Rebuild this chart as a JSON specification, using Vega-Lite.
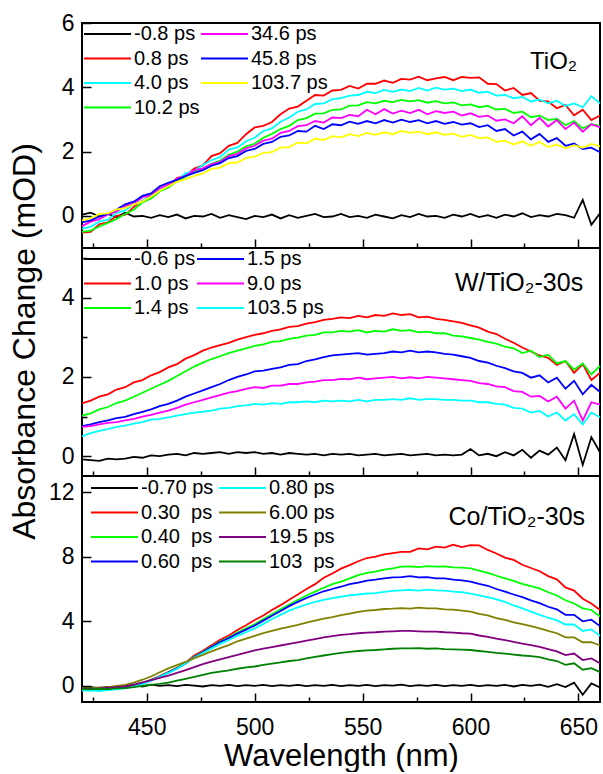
{
"$schema": "https://vega.github.io/schema/vega-lite/v6.json",
"padding": {"left": 6, "top": 11, "right": 3, "bottom": 0},
"spacing": 0,
"bounds": "flush",
"config": {
  "font": "Liberation Sans",
  "view": {"stroke": "black", "strokeWidth": 2},
  "axis": {"domain": false, "grid": false, "tickColor": "black", "tickWidth": 1.5, "labelFont": "Liberation Sans", "labelFontSize": 23, "labelColor": "black", "labelFlush": false, "labelOverlap": false, "titleFont": "Liberation Sans", "titleFontSize": 32, "titleFontWeight": "normal", "titleColor": "black"},
  "legend": {"orient": "none", "padding": 0, "columns": 2, "clipHeight": 20, "rowPadding": 4.5, "symbolType": "stroke", "symbolSize": 2209, "symbolStrokeWidth": 2, "labelFont": "Liberation Sans", "labelFontSize": 20, "labelColor": "black", "labelOffset": 2}
},
"resolve": {"scale": {"color": "independent", "x": "independent", "y": "independent"}, "legend": {"color": "independent"}},
"datasets": {
"p1": [
{"w":420,"a":0.04,"b":-0.52,"c":-0.40,"d":-0.50,"e":-0.32,"f":-0.20,"g":-0.14},
{"w":424,"a":0.10,"b":-0.50,"c":-0.34,"d":-0.46,"e":-0.18,"f":-0.14,"g":-0.08},
{"w":428,"a":-0.02,"b":-0.26,"c":-0.18,"d":-0.33,"e":-0.10,"f":-0.02,"g":0.06},
{"w":432,"a":0.06,"b":-0.20,"c":-0.12,"d":-0.22,"e":0.04,"f":0.06,"g":0.08},
{"w":436,"a":-0.04,"b":0.00,"c":0.09,"d":-0.10,"e":0.14,"f":0.20,"g":0.20},
{"w":440,"a":0.10,"b":0.03,"c":0.17,"d":0.06,"e":0.31,"f":0.36,"g":0.24},
{"w":444,"a":-0.02,"b":0.28,"c":0.36,"d":0.19,"e":0.38,"f":0.44,"g":0.36},
{"w":448,"a":0.00,"b":0.47,"c":0.45,"d":0.42,"e":0.58,"f":0.62,"g":0.44},
{"w":452,"a":-0.06,"b":0.55,"c":0.66,"d":0.54,"e":0.63,"f":0.70,"g":0.60},
{"w":456,"a":0.02,"b":0.78,"c":0.79,"d":0.76,"e":0.86,"f":0.92,"g":0.78},
{"w":460,"a":-0.04,"b":0.89,"c":1.03,"d":0.88,"e":0.97,"f":1.03,"g":0.92},
{"w":464,"a":0.04,"b":1.18,"c":1.11,"d":1.08,"e":1.16,"f":1.12,"g":1.06},
{"w":468,"a":-0.08,"b":1.26,"c":1.32,"d":1.22,"e":1.24,"f":1.24,"g":1.14},
{"w":472,"a":0.00,"b":1.47,"c":1.40,"d":1.36,"e":1.42,"f":1.34,"g":1.24},
{"w":476,"a":-0.02,"b":1.57,"c":1.58,"d":1.47,"e":1.48,"f":1.42,"g":1.32},
{"w":480,"a":0.06,"b":1.86,"c":1.73,"d":1.62,"e":1.61,"f":1.56,"g":1.46},
{"w":484,"a":-0.06,"b":1.95,"c":1.83,"d":1.72,"e":1.68,"f":1.64,"g":1.50},
{"w":488,"a":0.02,"b":2.18,"c":2.06,"d":1.90,"e":1.86,"f":1.80,"g":1.64},
{"w":492,"a":-0.04,"b":2.27,"c":2.13,"d":2.00,"e":1.93,"f":1.86,"g":1.66},
{"w":496,"a":-0.10,"b":2.54,"c":2.32,"d":2.16,"e":2.10,"f":2.02,"g":1.80},
{"w":500,"a":0.00,"b":2.75,"c":2.43,"d":2.24,"e":2.18,"f":2.08,"g":1.84},
{"w":504,"a":-0.04,"b":2.80,"c":2.64,"d":2.43,"e":2.34,"f":2.24,"g":1.96},
{"w":508,"a":0.04,"b":2.92,"c":2.72,"d":2.55,"e":2.40,"f":2.30,"g":1.98},
{"w":512,"a":-0.08,"b":3.16,"c":2.93,"d":2.70,"e":2.58,"f":2.46,"g":2.12},
{"w":516,"a":0.02,"b":3.34,"c":3.06,"d":2.80,"e":2.64,"f":2.50,"g":2.14},
{"w":520,"a":-0.06,"b":3.40,"c":3.24,"d":2.98,"e":2.79,"f":2.64,"g":2.28},
{"w":524,"a":0.00,"b":3.58,"c":3.31,"d":3.04,"e":2.82,"f":2.62,"g":2.26},
{"w":528,"a":0.06,"b":3.76,"c":3.48,"d":3.18,"e":2.95,"f":2.80,"g":2.40},
{"w":532,"a":-0.04,"b":3.74,"c":3.50,"d":3.19,"e":2.90,"f":2.70,"g":2.36},
{"w":536,"a":-0.02,"b":3.90,"c":3.63,"d":3.30,"e":3.06,"f":2.85,"g":2.48},
{"w":540,"a":0.06,"b":3.92,"c":3.66,"d":3.31,"e":3.04,"f":2.82,"g":2.44},
{"w":544,"a":-0.04,"b":4.04,"c":3.74,"d":3.43,"e":3.14,"f":2.93,"g":2.54},
{"w":548,"a":0.00,"b":3.96,"c":3.76,"d":3.44,"e":3.10,"f":2.86,"g":2.48},
{"w":552,"a":-0.06,"b":4.11,"c":3.86,"d":3.54,"e":3.30,"f":2.95,"g":2.58},
{"w":556,"a":0.04,"b":4.11,"c":3.82,"d":3.50,"e":3.16,"f":2.88,"g":2.52},
{"w":560,"a":-0.02,"b":4.21,"c":3.92,"d":3.58,"e":3.32,"f":2.98,"g":2.60},
{"w":564,"a":-0.08,"b":4.14,"c":3.86,"d":3.54,"e":3.18,"f":2.90,"g":2.54},
{"w":568,"a":0.02,"b":4.26,"c":3.93,"d":3.61,"e":3.27,"f":2.99,"g":2.64},
{"w":572,"a":-0.04,"b":4.24,"c":3.88,"d":3.56,"e":3.20,"f":2.92,"g":2.58},
{"w":576,"a":0.06,"b":4.33,"c":3.98,"d":3.60,"e":3.30,"f":2.98,"g":2.62},
{"w":580,"a":-0.02,"b":4.22,"c":3.90,"d":3.52,"e":3.16,"f":2.88,"g":2.54},
{"w":584,"a":0.00,"b":4.28,"c":3.99,"d":3.57,"e":3.26,"f":2.95,"g":2.60},
{"w":588,"a":-0.06,"b":4.32,"c":3.93,"d":3.50,"e":3.20,"f":2.86,"g":2.52},
{"w":592,"a":0.04,"b":4.22,"c":3.96,"d":3.53,"e":3.24,"f":2.92,"g":2.56},
{"w":596,"a":-0.02,"b":4.32,"c":3.88,"d":3.44,"e":3.12,"f":2.84,"g":2.46},
{"w":600,"a":0.06,"b":4.29,"c":3.93,"d":3.47,"e":3.19,"f":2.88,"g":2.52},
{"w":604,"a":-0.04,"b":4.31,"c":3.83,"d":3.38,"e":3.08,"f":2.76,"g":2.42},
{"w":608,"a":0.02,"b":4.11,"c":3.86,"d":3.42,"e":3.12,"f":2.82,"g":2.44},
{"w":612,"a":-0.06,"b":4.10,"c":3.74,"d":3.31,"e":2.96,"f":2.64,"g":2.30},
{"w":616,"a":0.04,"b":3.90,"c":3.76,"d":3.33,"e":3.00,"f":2.70,"g":2.34},
{"w":620,"a":-0.02,"b":3.98,"c":3.66,"d":3.20,"e":2.88,"f":2.50,"g":2.22},
{"w":624,"a":0.08,"b":3.76,"c":3.70,"d":3.24,"e":3.10,"f":2.62,"g":2.32},
{"w":628,"a":-0.04,"b":3.82,"c":3.56,"d":3.07,"e":2.82,"f":2.38,"g":2.18},
{"w":632,"a":0.02,"b":3.58,"c":3.62,"d":3.12,"e":3.05,"f":2.55,"g":2.30},
{"w":636,"a":-0.02,"b":3.56,"c":3.50,"d":2.98,"e":2.78,"f":2.30,"g":2.14},
{"w":640,"a":0.06,"b":3.35,"c":3.58,"d":3.02,"e":2.98,"f":2.42,"g":2.22},
{"w":644,"a":0.02,"b":3.45,"c":3.42,"d":2.82,"e":2.70,"f":2.18,"g":2.10},
{"w":648,"a":-0.06,"b":3.13,"c":3.50,"d":2.95,"e":2.90,"f":2.25,"g":2.20},
{"w":652,"a":0.50,"b":3.30,"c":3.38,"d":2.72,"e":2.62,"f":2.08,"g":2.12},
{"w":656,"a":-0.28,"b":2.98,"c":3.72,"d":2.85,"e":2.85,"f":2.12,"g":2.24},
{"w":660,"a":0.08,"b":3.12,"c":3.50,"d":2.80,"e":2.75,"f":1.98,"g":2.16}
],
"p2": [
{"w":420,"a":-0.08,"b":1.33,"c":1.02,"d":0.76,"e":0.74,"f":0.50},
{"w":424,"a":-0.10,"b":1.40,"c":1.08,"d":0.80,"e":0.76,"f":0.58},
{"w":428,"a":-0.12,"b":1.50,"c":1.18,"d":0.86,"e":0.80,"f":0.64},
{"w":432,"a":-0.06,"b":1.56,"c":1.24,"d":0.90,"e":0.84,"f":0.68},
{"w":436,"a":-0.08,"b":1.68,"c":1.34,"d":0.96,"e":0.86,"f":0.74},
{"w":440,"a":-0.06,"b":1.74,"c":1.40,"d":0.99,"e":0.90,"f":0.77},
{"w":444,"a":-0.02,"b":1.86,"c":1.50,"d":1.06,"e":0.94,"f":0.82},
{"w":448,"a":-0.04,"b":1.92,"c":1.60,"d":1.12,"e":1.00,"f":0.86},
{"w":452,"a":0.02,"b":2.04,"c":1.70,"d":1.18,"e":1.04,"f":0.92},
{"w":456,"a":0.00,"b":2.12,"c":1.80,"d":1.26,"e":1.10,"f":0.94},
{"w":460,"a":0.04,"b":2.24,"c":1.90,"d":1.32,"e":1.15,"f":0.98},
{"w":464,"a":0.06,"b":2.32,"c":2.02,"d":1.40,"e":1.22,"f":1.02},
{"w":468,"a":0.02,"b":2.46,"c":2.14,"d":1.50,"e":1.30,"f":1.06},
{"w":472,"a":0.08,"b":2.55,"c":2.26,"d":1.58,"e":1.36,"f":1.10},
{"w":476,"a":0.06,"b":2.66,"c":2.36,"d":1.66,"e":1.42,"f":1.12},
{"w":480,"a":0.08,"b":2.74,"c":2.45,"d":1.74,"e":1.48,"f":1.15},
{"w":484,"a":0.10,"b":2.80,"c":2.52,"d":1.82,"e":1.54,"f":1.20},
{"w":488,"a":0.06,"b":2.86,"c":2.60,"d":1.92,"e":1.60,"f":1.22},
{"w":492,"a":0.10,"b":2.94,"c":2.66,"d":2.00,"e":1.64,"f":1.26},
{"w":496,"a":0.08,"b":3.00,"c":2.72,"d":2.06,"e":1.70,"f":1.28},
{"w":500,"a":0.10,"b":3.06,"c":2.78,"d":2.14,"e":1.74,"f":1.32},
{"w":504,"a":0.06,"b":3.10,"c":2.82,"d":2.16,"e":1.72,"f":1.30},
{"w":508,"a":0.08,"b":3.16,"c":2.88,"d":2.20,"e":1.78,"f":1.34},
{"w":512,"a":0.04,"b":3.20,"c":2.90,"d":2.24,"e":1.78,"f":1.32},
{"w":516,"a":0.08,"b":3.26,"c":2.96,"d":2.30,"e":1.82,"f":1.36},
{"w":520,"a":0.06,"b":3.28,"c":2.99,"d":2.32,"e":1.82,"f":1.36},
{"w":524,"a":0.04,"b":3.34,"c":3.04,"d":2.40,"e":1.86,"f":1.38},
{"w":528,"a":0.06,"b":3.38,"c":3.06,"d":2.44,"e":1.88,"f":1.36},
{"w":532,"a":0.02,"b":3.44,"c":3.12,"d":2.50,"e":1.92,"f":1.40},
{"w":536,"a":0.06,"b":3.46,"c":3.12,"d":2.54,"e":1.92,"f":1.38},
{"w":540,"a":0.04,"b":3.50,"c":3.16,"d":2.56,"e":1.95,"f":1.40},
{"w":544,"a":0.06,"b":3.48,"c":3.14,"d":2.58,"e":1.94,"f":1.38},
{"w":548,"a":0.02,"b":3.54,"c":3.18,"d":2.60,"e":1.98,"f":1.42},
{"w":552,"a":0.04,"b":3.50,"c":3.12,"d":2.56,"e":1.94,"f":1.38},
{"w":556,"a":0.06,"b":3.56,"c":3.16,"d":2.58,"e":1.96,"f":1.42},
{"w":560,"a":0.02,"b":3.54,"c":3.14,"d":2.60,"e":1.98,"f":1.42},
{"w":564,"a":0.04,"b":3.60,"c":3.20,"d":2.64,"e":2.00,"f":1.44},
{"w":568,"a":0.06,"b":3.56,"c":3.16,"d":2.62,"e":1.96,"f":1.42},
{"w":572,"a":0.02,"b":3.58,"c":3.18,"d":2.66,"e":1.99,"f":1.46},
{"w":576,"a":0.04,"b":3.50,"c":3.12,"d":2.62,"e":1.96,"f":1.42},
{"w":580,"a":0.06,"b":3.52,"c":3.14,"d":2.64,"e":2.00,"f":1.44},
{"w":584,"a":0.02,"b":3.46,"c":3.10,"d":2.62,"e":1.98,"f":1.44},
{"w":588,"a":0.04,"b":3.44,"c":3.10,"d":2.58,"e":1.96,"f":1.42},
{"w":592,"a":0.02,"b":3.40,"c":3.04,"d":2.56,"e":1.94,"f":1.42},
{"w":596,"a":0.04,"b":3.36,"c":3.02,"d":2.52,"e":1.92,"f":1.40},
{"w":600,"a":0.18,"b":3.30,"c":2.98,"d":2.48,"e":1.90,"f":1.40},
{"w":604,"a":0.02,"b":3.24,"c":2.94,"d":2.40,"e":1.84,"f":1.36},
{"w":608,"a":0.06,"b":3.14,"c":2.88,"d":2.36,"e":1.82,"f":1.36},
{"w":612,"a":0.00,"b":3.08,"c":2.84,"d":2.28,"e":1.76,"f":1.32},
{"w":616,"a":0.10,"b":2.96,"c":2.76,"d":2.22,"e":1.74,"f":1.30},
{"w":620,"a":0.02,"b":2.86,"c":2.72,"d":2.14,"e":1.64,"f":1.22},
{"w":624,"a":0.16,"b":2.74,"c":2.60,"d":2.10,"e":1.62,"f":1.20},
{"w":628,"a":-0.04,"b":2.64,"c":2.66,"d":1.98,"e":1.50,"f":1.10},
{"w":632,"a":0.14,"b":2.54,"c":2.50,"d":2.04,"e":1.52,"f":1.14},
{"w":636,"a":0.04,"b":2.48,"c":2.56,"d":1.86,"e":1.38,"f":1.00},
{"w":640,"a":0.22,"b":2.30,"c":2.34,"d":1.98,"e":1.50,"f":1.10},
{"w":644,"a":-0.10,"b":2.40,"c":2.40,"d":1.70,"e":1.20,"f":0.90},
{"w":648,"a":0.56,"b":2.10,"c":2.18,"d":1.90,"e":1.40,"f":1.06},
{"w":652,"a":-0.22,"b":2.32,"c":2.34,"d":1.56,"e":0.90,"f":0.80},
{"w":656,"a":0.48,"b":1.92,"c":2.06,"d":1.80,"e":1.36,"f":1.10},
{"w":660,"a":0.10,"b":2.10,"c":2.28,"d":1.62,"e":1.30,"f":0.98}
],
"p3": [
{"w":420,"a":-0.12,"b":-0.18,"c":-0.20,"d":-0.22,"e":-0.30,"f":-0.14,"g":-0.18,"h":-0.20},
{"w":424,"a":-0.08,"b":-0.22,"c":-0.18,"d":-0.20,"e":-0.28,"f":-0.16,"g":-0.20,"h":-0.22},
{"w":428,"a":-0.14,"b":-0.16,"c":-0.22,"d":-0.24,"e":-0.32,"f":-0.10,"g":-0.16,"h":-0.18},
{"w":432,"a":-0.06,"b":-0.20,"c":-0.16,"d":-0.18,"e":-0.26,"f":-0.08,"g":-0.12,"h":-0.20},
{"w":436,"a":-0.10,"b":-0.12,"c":-0.14,"d":-0.16,"e":-0.22,"f":0.00,"g":-0.08,"h":-0.16},
{"w":440,"a":-0.02,"b":-0.10,"c":-0.10,"d":-0.12,"e":-0.16,"f":0.06,"g":-0.04,"h":-0.14},
{"w":444,"a":0.06,"b":0.02,"c":0.00,"d":-0.02,"e":-0.04,"f":0.20,"g":0.08,"h":-0.08},
{"w":448,"a":-0.04,"b":0.16,"c":0.14,"d":0.12,"e":0.10,"f":0.38,"g":0.22,"h":0.00},
{"w":452,"a":0.08,"b":0.38,"c":0.36,"d":0.34,"e":0.32,"f":0.58,"g":0.36,"h":0.06},
{"w":456,"a":0.00,"b":0.60,"c":0.58,"d":0.56,"e":0.56,"f":0.84,"g":0.50,"h":0.12},
{"w":460,"a":0.04,"b":0.86,"c":0.84,"d":0.82,"e":0.80,"f":1.08,"g":0.64,"h":0.20},
{"w":464,"a":-0.02,"b":1.12,"c":1.10,"d":1.08,"e":1.06,"f":1.28,"g":0.80,"h":0.32},
{"w":468,"a":0.06,"b":1.44,"c":1.40,"d":1.38,"e":1.40,"f":1.48,"g":0.98,"h":0.44},
{"w":472,"a":0.02,"b":1.88,"c":1.80,"d":1.78,"e":1.76,"f":1.72,"g":1.16,"h":0.56},
{"w":476,"a":-0.04,"b":2.18,"c":2.10,"d":2.08,"e":2.04,"f":1.92,"g":1.34,"h":0.68},
{"w":480,"a":0.04,"b":2.52,"c":2.42,"d":2.40,"e":2.32,"f":2.14,"g":1.50,"h":0.80},
{"w":484,"a":0.00,"b":2.86,"c":2.74,"d":2.72,"e":2.60,"f":2.34,"g":1.64,"h":0.88},
{"w":488,"a":0.06,"b":3.12,"c":3.00,"d":2.96,"e":2.84,"f":2.52,"g":1.78,"h":0.96},
{"w":492,"a":-0.02,"b":3.46,"c":3.30,"d":3.24,"e":3.10,"f":2.76,"g":1.92,"h":1.06},
{"w":496,"a":0.04,"b":3.76,"c":3.56,"d":3.48,"e":3.32,"f":2.92,"g":2.06,"h":1.14},
{"w":500,"a":0.00,"b":4.08,"c":3.82,"d":3.74,"e":3.56,"f":3.10,"g":2.20,"h":1.20},
{"w":504,"a":0.06,"b":4.36,"c":4.14,"d":4.04,"e":3.84,"f":3.26,"g":2.30,"h":1.30},
{"w":508,"a":-0.02,"b":4.70,"c":4.44,"d":4.34,"e":4.14,"f":3.40,"g":2.40,"h":1.38},
{"w":512,"a":0.04,"b":5.00,"c":4.74,"d":4.64,"e":4.40,"f":3.54,"g":2.50,"h":1.46},
{"w":516,"a":0.00,"b":5.34,"c":5.04,"d":4.94,"e":4.66,"f":3.66,"g":2.60,"h":1.54},
{"w":520,"a":0.06,"b":5.66,"c":5.32,"d":5.20,"e":4.86,"f":3.78,"g":2.70,"h":1.60},
{"w":524,"a":-0.02,"b":6.00,"c":5.60,"d":5.44,"e":5.04,"f":3.92,"g":2.80,"h":1.70},
{"w":528,"a":0.04,"b":6.30,"c":5.84,"d":5.66,"e":5.20,"f":4.04,"g":2.90,"h":1.80},
{"w":532,"a":0.00,"b":6.70,"c":6.08,"d":5.86,"e":5.32,"f":4.16,"g":3.00,"h":1.88},
{"w":536,"a":0.06,"b":6.96,"c":6.30,"d":6.00,"e":5.44,"f":4.26,"g":3.08,"h":1.96},
{"w":540,"a":-0.02,"b":7.26,"c":6.46,"d":6.14,"e":5.52,"f":4.38,"g":3.16,"h":2.04},
{"w":544,"a":0.04,"b":7.48,"c":6.66,"d":6.30,"e":5.60,"f":4.48,"g":3.20,"h":2.10},
{"w":548,"a":0.00,"b":7.72,"c":6.86,"d":6.40,"e":5.66,"f":4.58,"g":3.26,"h":2.16},
{"w":552,"a":0.06,"b":7.92,"c":7.00,"d":6.52,"e":5.72,"f":4.66,"g":3.30,"h":2.20},
{"w":556,"a":-0.02,"b":8.00,"c":7.08,"d":6.58,"e":5.74,"f":4.70,"g":3.32,"h":2.22},
{"w":560,"a":0.04,"b":8.14,"c":7.20,"d":6.66,"e":5.82,"f":4.76,"g":3.36,"h":2.26},
{"w":564,"a":0.02,"b":8.22,"c":7.28,"d":6.72,"e":5.88,"f":4.78,"g":3.38,"h":2.30},
{"w":568,"a":0.08,"b":8.30,"c":7.38,"d":6.74,"e":5.92,"f":4.82,"g":3.40,"h":2.32},
{"w":572,"a":-0.02,"b":8.30,"c":7.40,"d":6.80,"e":5.94,"f":4.78,"g":3.40,"h":2.32},
{"w":576,"a":0.04,"b":8.52,"c":7.36,"d":6.72,"e":5.90,"f":4.84,"g":3.38,"h":2.34},
{"w":580,"a":0.00,"b":8.46,"c":7.42,"d":6.74,"e":5.96,"f":4.80,"g":3.36,"h":2.30},
{"w":584,"a":0.06,"b":8.62,"c":7.38,"d":6.66,"e":5.92,"f":4.80,"g":3.36,"h":2.32},
{"w":588,"a":-0.02,"b":8.56,"c":7.40,"d":6.66,"e":5.90,"f":4.74,"g":3.32,"h":2.28},
{"w":592,"a":0.04,"b":8.74,"c":7.34,"d":6.58,"e":5.84,"f":4.72,"g":3.30,"h":2.26},
{"w":596,"a":0.00,"b":8.60,"c":7.32,"d":6.54,"e":5.80,"f":4.66,"g":3.26,"h":2.24},
{"w":600,"a":0.06,"b":8.72,"c":7.28,"d":6.46,"e":5.72,"f":4.60,"g":3.24,"h":2.22},
{"w":604,"a":-0.02,"b":8.70,"c":7.14,"d":6.32,"e":5.60,"f":4.46,"g":3.12,"h":2.16},
{"w":608,"a":0.04,"b":8.42,"c":7.00,"d":6.20,"e":5.50,"f":4.36,"g":3.04,"h":2.10},
{"w":612,"a":0.00,"b":8.20,"c":6.82,"d":6.00,"e":5.36,"f":4.20,"g":2.92,"h":2.04},
{"w":616,"a":0.06,"b":7.94,"c":6.66,"d":5.84,"e":5.20,"f":4.08,"g":2.84,"h":2.00},
{"w":620,"a":-0.04,"b":7.80,"c":6.50,"d":5.66,"e":4.98,"f":3.94,"g":2.72,"h":1.94},
{"w":624,"a":0.06,"b":7.50,"c":6.32,"d":5.50,"e":4.80,"f":3.82,"g":2.62,"h":1.88},
{"w":628,"a":0.00,"b":7.30,"c":6.18,"d":5.30,"e":4.60,"f":3.70,"g":2.52,"h":1.84},
{"w":632,"a":0.08,"b":7.10,"c":6.04,"d":5.12,"e":4.40,"f":3.56,"g":2.42,"h":1.78},
{"w":636,"a":-0.06,"b":6.80,"c":5.80,"d":4.90,"e":4.22,"f":3.40,"g":2.28,"h":1.64},
{"w":640,"a":0.10,"b":6.60,"c":5.60,"d":4.74,"e":4.06,"f":3.26,"g":2.14,"h":1.54},
{"w":644,"a":-0.08,"b":6.10,"c":5.30,"d":4.40,"e":3.80,"f":3.00,"g":1.90,"h":1.30},
{"w":648,"a":0.20,"b":5.90,"c":5.10,"d":4.40,"e":3.80,"f":3.00,"g":2.00,"h":1.40},
{"w":652,"a":-0.55,"b":5.40,"c":4.80,"d":4.00,"e":3.40,"f":2.70,"g":1.60,"h":1.00},
{"w":656,"a":0.15,"b":5.10,"c":4.70,"d":4.10,"e":3.50,"f":2.70,"g":1.70,"h":1.10},
{"w":660,"a":-0.10,"b":4.70,"c":4.30,"d":3.70,"e":3.10,"f":2.50,"g":1.40,"h":0.85}
]
},
"vconcat": [
{
  "width": 518, "height": 225,
  "layer": [
    {
      "data": {"name": "p1"},
      "transform": [
        {"fold": ["a","b","c","d","e","f","g"], "as": ["k","v"]},
        {"lookup": "k", "from": {"data": {"values": [{"k":"a","s":"-0.8 ps"},{"k":"b","s":"0.8 ps"},{"k":"c","s":"4.0 ps"},{"k":"d","s":"10.2 ps"},{"k":"e","s":"34.6 ps"},{"k":"f","s":"45.8 ps"},{"k":"g","s":"103.7 ps"}]}, "key": "k", "fields": ["s"]}}
      ],
      "mark": {"type": "line", "strokeWidth": 1.8},
      "encoding": {
        "x": {"field": "w", "type": "quantitative", "scale": {"domain": [420,660], "nice": false, "zero": false},
              "axis": {"values": [425,450,475,500,525,550,575,600,625,650], "tickSize": {"condition": {"test": "datum.value % 50 != 0", "value": -5}, "value": -9}, "labels": false, "title": null}},
        "y": {"field": "v", "type": "quantitative", "scale": {"domain": [-1,6], "nice": false, "zero": false},
              "axis": {"values": [0,1,2,3,4,5,6], "tickSize": {"condition": {"test": "datum.value % 2 != 0", "value": -5}, "value": -9}, "labelExpr": "datum.value % 2 == 0 ? datum.label : ''", "labelPadding": 17, "title": null}},
        "color": {"field": "s", "type": "nominal",
                  "scale": {"domain": ["-0.8 ps","0.8 ps","4.0 ps","10.2 ps","34.6 ps","45.8 ps","103.7 ps"], "range": ["#000000","#ff0000","#00ffff","#00ff00","#ff00ff","#0000ff","#ffff00"]},
                  "legend": {"title": null, "legendX": 1, "legendY": 1, "columnPadding": 0}}
      }
    },
    {
      "data": {"values": [{"x": 649.4, "y": 4.57, "t": "TiO₂"}]},
      "mark": {"type": "text", "align": "right", "baseline": "alphabetic", "fontSize": 24, "font": "Liberation Sans", "color": "black"},
      "encoding": {
        "x": {"field": "x", "type": "quantitative", "scale": {"domain": [420,660], "nice": false, "zero": false}},
        "y": {"field": "y", "type": "quantitative", "scale": {"domain": [-1,6], "nice": false, "zero": false}},
        "text": {"field": "t"}
      }
    }
  ]
},
{
  "width": 518, "height": 228,
  "layer": [
    {
      "data": {"name": "p2"},
      "transform": [
        {"fold": ["a","b","c","d","e","f"], "as": ["k","v"]},
        {"lookup": "k", "from": {"data": {"values": [{"k":"a","s":"-0.6 ps"},{"k":"b","s":"1.0 ps"},{"k":"c","s":"1.4 ps"},{"k":"d","s":"1.5 ps"},{"k":"e","s":"9.0 ps"},{"k":"f","s":"103.5 ps"}]}, "key": "k", "fields": ["s"]}}
      ],
      "mark": {"type": "line", "strokeWidth": 1.8},
      "encoding": {
        "x": {"field": "w", "type": "quantitative", "scale": {"domain": [420,660], "nice": false, "zero": false},
              "axis": {"values": [425,450,475,500,525,550,575,600,625,650], "tickSize": {"condition": {"test": "datum.value % 50 != 0", "value": -5}, "value": -9}, "labels": false, "title": null}},
        "y": {"field": "v", "type": "quantitative", "scale": {"domain": [-0.5,5.25], "nice": false, "zero": false},
              "axis": {"values": [0,1,2,3,4,5], "tickSize": {"condition": {"test": "datum.value % 2 != 0", "value": -5}, "value": -9}, "labelExpr": "datum.value % 2 == 0 ? datum.label : ''", "labelPadding": 17, "title": "Absorbance Change (mOD)", "titleX": -41, "titleY": 93, "titleBaseline": "bottom"}},
        "color": {"field": "s", "type": "nominal",
                  "scale": {"domain": ["-0.6 ps","1.0 ps","1.4 ps","1.5 ps","9.0 ps","103.5 ps"], "range": ["#000000","#ff0000","#00ff00","#0000ff","#ff00ff","#00ffff"]},
                  "legend": {"title": null, "legendX": 1, "legendY": 1, "columnPadding": 0}}
      }
    },
    {
      "data": {"values": [{"x": 652.2, "y": 4.17, "t": "W/TiO₂-30s"}]},
      "mark": {"type": "text", "align": "right", "baseline": "alphabetic", "fontSize": 25, "font": "Liberation Sans", "color": "black"},
      "encoding": {
        "x": {"field": "x", "type": "quantitative", "scale": {"domain": [420,660], "nice": false, "zero": false}},
        "y": {"field": "y", "type": "quantitative", "scale": {"domain": [-0.5,5.25], "nice": false, "zero": false}},
        "text": {"field": "t"}
      }
    }
  ]
},
{
  "width": 518, "height": 226,
  "layer": [
    {
      "data": {"name": "p3"},
      "transform": [
        {"fold": ["a","b","c","d","e","f","g","h"], "as": ["k","v"]},
        {"lookup": "k", "from": {"data": {"values": [{"k":"a","s":"-0.70 ps"},{"k":"b","s":"0.30\u00a0\u00a0ps"},{"k":"c","s":"0.40\u00a0\u00a0ps"},{"k":"d","s":"0.60\u00a0\u00a0ps"},{"k":"e","s":"0.80 ps"},{"k":"f","s":"6.00 ps"},{"k":"g","s":"19.5 ps"},{"k":"h","s":"103\u00a0\u00a0ps"}]}, "key": "k", "fields": ["s"]}}
      ],
      "mark": {"type": "line", "strokeWidth": 1.8},
      "encoding": {
        "x": {"field": "w", "type": "quantitative", "scale": {"domain": [420,660], "nice": false, "zero": false},
              "axis": {"values": [425,450,475,500,525,550,575,600,625,650], "tickSize": {"condition": {"test": "datum.value % 50 != 0", "value": -5}, "value": -9}, "labelExpr": "datum.value % 50 == 0 ? datum.label : ''", "labelPadding": 23, "title": "Wavelength (nm)", "titleFontSize": 31, "titleY": 63, "titleBaseline": "alphabetic"}},
        "y": {"field": "v", "type": "quantitative", "scale": {"domain": [-1,13], "nice": false, "zero": false},
              "axis": {"values": [0,2,4,6,8,10,12], "tickSize": {"condition": {"test": "datum.value % 4 != 0", "value": -5}, "value": -9}, "labelExpr": "datum.value % 4 == 0 ? datum.label : ''", "labelPadding": 17, "title": null}},
        "color": {"field": "s", "type": "nominal",
                  "scale": {"domain": ["-0.70 ps","0.30\u00a0\u00a0ps","0.40\u00a0\u00a0ps","0.60\u00a0\u00a0ps","0.80 ps","6.00 ps","19.5 ps","103\u00a0\u00a0ps"], "range": ["#000000","#ff0000","#00ff00","#0000ff","#00ffff","#808000","#800080","#008000"]},
                  "legend": {"title": null, "legendX": 8, "legendY": 2, "columnPadding": 4}}
      }
    },
    {
      "data": {"values": [{"x": 653.1, "y": 9.96, "t": "Co/TiO₂-30s"}]},
      "mark": {"type": "text", "align": "right", "baseline": "alphabetic", "fontSize": 25, "font": "Liberation Sans", "color": "black"},
      "encoding": {
        "x": {"field": "x", "type": "quantitative", "scale": {"domain": [420,660], "nice": false, "zero": false}},
        "y": {"field": "y", "type": "quantitative", "scale": {"domain": [-1,13], "nice": false, "zero": false}},
        "text": {"field": "t"}
      }
    }
  ]
}
]
}
